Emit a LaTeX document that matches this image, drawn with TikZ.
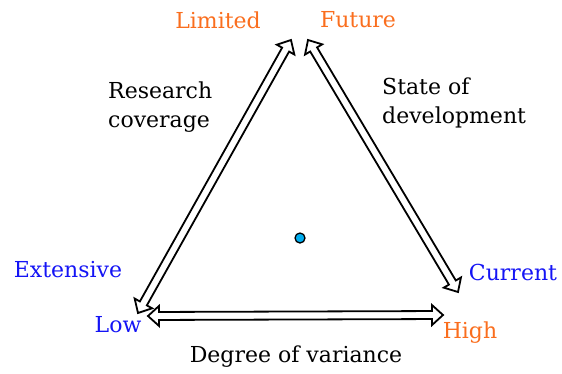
\documentclass[tikz,border=0pt]{standalone}
\usepackage{fontspec}
\setmainfont{DejaVu Serif}
\usetikzlibrary{calc,positioning}
\definecolor{lblorange}{RGB}{250,110,30}
\definecolor{lblblue}{RGB}{20,20,245}
% hollow two-headed block arrow between two named points
\newcommand\twowayarrow[2]{%
  \draw[axis] let \p1=($(#2)-(#1)$), \n1={atan2(\y1,\x1)}, \n2={veclen(\x1,\y1)} in
    [shift={(#1)}, rotate=\n1]
    (0,0) -- (11,10) -- (11,4) -- (\n2-11,4) -- (\n2-11,10) -- (\n2,0)
    -- (\n2-11,-10) -- (\n2-11,-4) -- (11,-4) -- (11,-10) -- cycle;}
\begin{document}
\begin{tikzpicture}[x=1pt,y=1pt]
                \tikzstyle{axis}=[line width=1.8pt, line join=miter, fill=white]
                \tikzstyle{lbl}=[inner sep=0pt, font=\fontsize{22}{29}\selectfont]
                \tikzstyle{low}=[lbl, text=lblblue]
                \tikzstyle{high}=[lbl, text=lblorange]

                \useasboundingbox (0,0) rectangle (562,-373);

                \coordinate (lt) at (291,-40);
                \coordinate (rt) at (308,-40);
                \coordinate (lb) at (138,-313);
                \coordinate (rb) at (458,-292);
                \coordinate (bl) at (148,-316);
                \coordinate (br) at (443,-315);

                \twowayarrow{lb}{lt}
                \twowayarrow{rt}{rb}
                \twowayarrow{bl}{br}

                \node[high] (limited) at (218,-20) {Limited};
                \node[high] (future) at (358,-20) {Future};
                \node[low] (extensive) at (68,-270) {Extensive};
                \node[low] (current) at (513,-272) {Current};
                \node[low] (lo) at (118,-325) {Low};
                \node[high] (hi) at (470,-333) {High};

                \node[lbl, align=left, anchor=west] (research) at (108,-107) {Research\\coverage};
                \node[lbl, align=left, anchor=west] (state) at (382,-103) {State of\\development};
                \node[lbl] (variance) at (296,-357) {Degree of variance};

                \node[draw, circle, fill=cyan, line width=1.3pt, minimum size=10pt, inner sep=0pt] (dot) at (300,-238) {};
            \end{tikzpicture}
\end{document}
